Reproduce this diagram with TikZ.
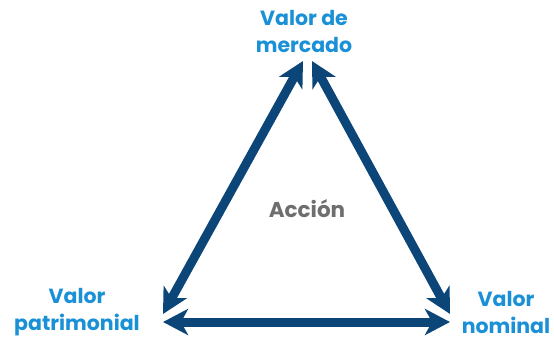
\documentclass[tikz,border=0pt]{standalone}
\usepackage{fontspec}
\setmainfont{Poppins}
\usetikzlibrary{arrows.meta}

\definecolor{arrowblue}{HTML}{0C4577}
\definecolor{labelblue}{HTML}{1A90D6}
\definecolor{textgray}{HTML}{6E6E6E}

\tikzset{
    valarrow/.style={line width=9pt, arrowblue,
        {Stealth[length=25pt,width=26pt,inset=7pt]}-{Stealth[length=25pt,width=26pt,inset=7pt]}},
    vallabel/.style={labelblue, font=\bfseries\fontsize{20.5}{27}\selectfont, align=center, inner sep=0pt}
}

\begin{document}
\begin{tikzpicture}[x=1pt, y=-1pt]

    % Fix the page size
    \useasboundingbox (0,0) rectangle (554,340);

    % Define the arrow tips
    \coordinate (T1) at (303,61);
    \coordinate (T2) at (312,61);
    \coordinate (L1) at (163,314);
    \coordinate (L2) at (163,322);
    \coordinate (R1) at (450,314);
    \coordinate (R2) at (450,322);

    % Draw the three double arrows
    \draw[valarrow] (T1) -- (L1);
    \draw[valarrow] (T2) -- (R1);
    \draw[valarrow] (L2) -- (R2);

    % Add the labels at the corners
    \node[vallabel] (mercado) at (304,31) {Valor de\\mercado};
    \node[vallabel] (patrimonial) at (77,312) {Valor\\patrimonial};
    \node[vallabel] (nominal) at (506,312) {Valor\\nominal};

    % Add the centre text
    \node[textgray, font=\bfseries\fontsize{21.5}{26}\selectfont] (accion) at (307,209) {Acción};

\end{tikzpicture}
\end{document}
